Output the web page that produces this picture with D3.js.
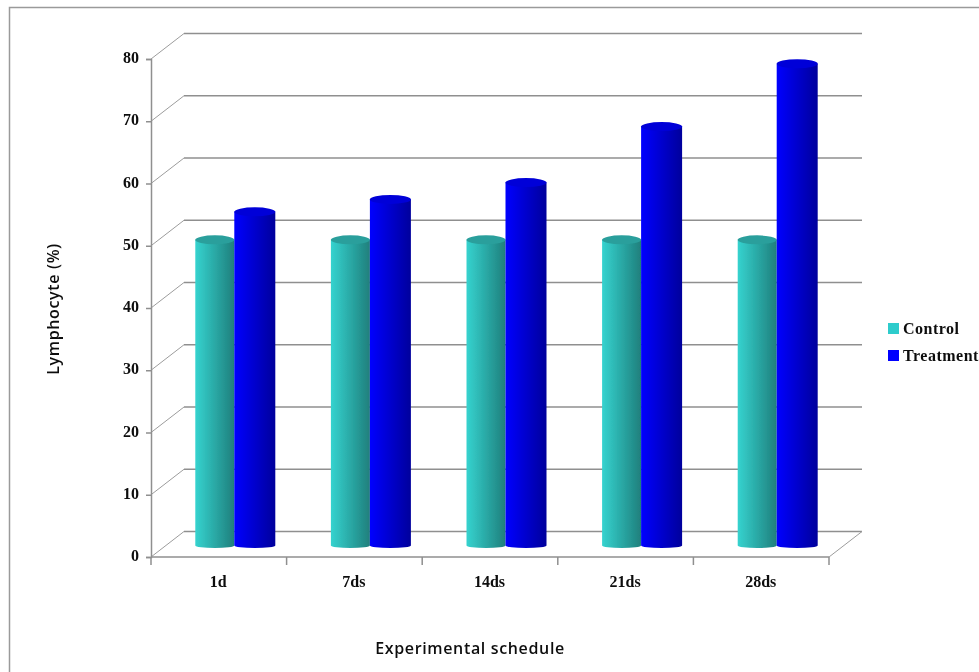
<!DOCTYPE html>
<html><head><meta charset="utf-8">
<style>html,body{margin:0;padding:0;background:#fff;overflow:hidden}svg{display:block}</style>
<script src="https://cdnjs.cloudflare.com/ajax/libs/d3/7.8.5/d3.min.js"></script>
</head><body><svg id="c" width="979" height="672"></svg>
<script>
const categories=["1d","7ds","14ds","21ds","28ds"];
const seriesNames=["Control","Treatment"];
const control=[49.5,49.5,49.5,49.5,49.5];
const treatment=[54,56,58.7,67.7,77.8];
const yTicks=[0,10,20,30,40,50,60,70,80];
const colours={Control:["#35d3cf","#1f7f7c","#2a9f9c","#2fcccc"],Treatment:["#0000ff","#00009c","#0000d8","#0000ff"]};

const svg=d3.select("#c");
const L=151,R=829,T=59,B=557,dx=33,dy=-25.5,baseShift=16,baseLift=9;
const x=d3.scaleBand().domain(categories).range([L,R]);
const y=d3.scaleLinear().domain([0,80]).range([B,T]);
const gray="#8f8f8f",serif="'Liberation Serif',serif",sans="'Open Sans','Noto Sans',sans-serif";

const defs=svg.append("defs");
seriesNames.forEach(n=>{
  const g=defs.append("linearGradient").attr("id","g"+n);
  g.append("stop").attr("offset","0%").attr("stop-color",colours[n][0]);
  g.append("stop").attr("offset","100%").attr("stop-color",colours[n][1]);
});
const soft=defs.append("filter").attr("id","soft").attr("filterUnits","userSpaceOnUse").attr("x",0).attr("y",0).attr("width",979).attr("height",672);
soft.append("feGaussianBlur").attr("stdDeviation",0.4);

const root=svg.append("g").attr("filter","url(#soft)");
// outer frame
root.append("path").attr("d","M9.5 672V7.5H979").attr("fill","none").attr("stroke","#9a9a9a").attr("stroke-width",1.5);

const chart=root.append("g");
// back wall gridlines and diagonal floor/side lines
yTicks.forEach(t=>{
  chart.append("line").attr("x1",L+dx).attr("x2",R+dx).attr("y1",y(t)+dy).attr("y2",y(t)+dy).attr("stroke",gray).attr("stroke-width",1.5);
  chart.append("line").attr("x1",L).attr("x2",L+dx).attr("y1",y(t)).attr("y2",y(t)+dy).attr("stroke","#9c9c9c").attr("stroke-width",1);
});
chart.append("line").attr("x1",R).attr("x2",R+dx).attr("y1",B).attr("y2",B+dy).attr("stroke","#9c9c9c").attr("stroke-width",1);

// axes
const yAxis=d3.axisLeft(y).tickValues(yTicks).tickSize(5).tickPadding(7);
const gy=chart.append("g").attr("transform",`translate(${L},0)`).call(yAxis);
const xAxis=d3.axisBottom(x).tickSize(0).tickPadding(19);
const gx=chart.append("g").attr("transform",`translate(0,${B})`).call(xAxis);
[gy,gx].forEach(g=>{
  g.selectAll("path,line").attr("stroke",gray).attr("stroke-width",1.5);
  g.selectAll("text").attr("font-family",serif).attr("font-weight","bold").attr("font-size",16).attr("fill","#111");
});
gy.selectAll("text").attr("dy","0.22em");
gx.selectAll("text").attr("dx",-0.5);
gx.select(".domain").attr("d",`M${L},0H${R}`);
chart.selectAll(null).data(categories.map(c=>x(c)).concat([R])).enter().append("line")
  .attr("x1",d=>d).attr("x2",d=>d).attr("y1",B).attr("y2",B+8).attr("stroke",gray).attr("stroke-width",1.5);

// cylinders
const rows=categories.map((c,i)=>({c,Control:control[i],Treatment:treatment[i]}));
const barW={Control:39,Treatment:41};
function cyl(n,offset){
  const gs=chart.selectAll(null).data(rows).enter().append("g");
  gs.each(function(d){
    const g=d3.select(this);
    const cx=x(d.c)+x.bandwidth()/2+baseShift+offset;
    const w=barW[n],xl=cx-w/2,xr=cx+w/2,rx=w/2;
    const yb=y(0)-baseLift,yt=y(d[n])-baseLift;
    g.append("path").attr("d",`M${xl},${yt}V${yb-2.5}A${rx},2.5 0 0 0 ${xr},${yb-2.5}V${yt}Z`).attr("fill",`url(#g${n})`);
    g.append("ellipse").attr("cx",cx).attr("cy",yt).attr("rx",rx).attr("ry",4.5).attr("fill",colours[n][2]);
  });
}
cyl("Control",-20);
cyl("Treatment",20);

// axis titles
const titleAttrs=s=>s.attr("text-anchor","middle").attr("font-family",sans).attr("font-weight",600).attr("font-size",16).attr("letter-spacing",0.65).attr("fill","#111");
root.append("text").attr("x",470).attr("y",654).call(titleAttrs).text("Experimental schedule");
root.append("text").attr("transform","translate(59,309) rotate(-90)").call(titleAttrs).text("Lymphocyte (%)");

// legend
const leg=root.selectAll(null).data(seriesNames).enter().append("g").attr("transform",(d,i)=>`translate(888,${323+i*27})`);
leg.append("rect").attr("width",11).attr("height",11).attr("fill",d=>colours[d][3]);
leg.append("text").attr("x",15).attr("y",10.5).attr("font-family",serif).attr("font-weight","bold").attr("font-size",16).attr("letter-spacing",0.5).attr("fill","#111").text(d=>d);
</script></body></html>
